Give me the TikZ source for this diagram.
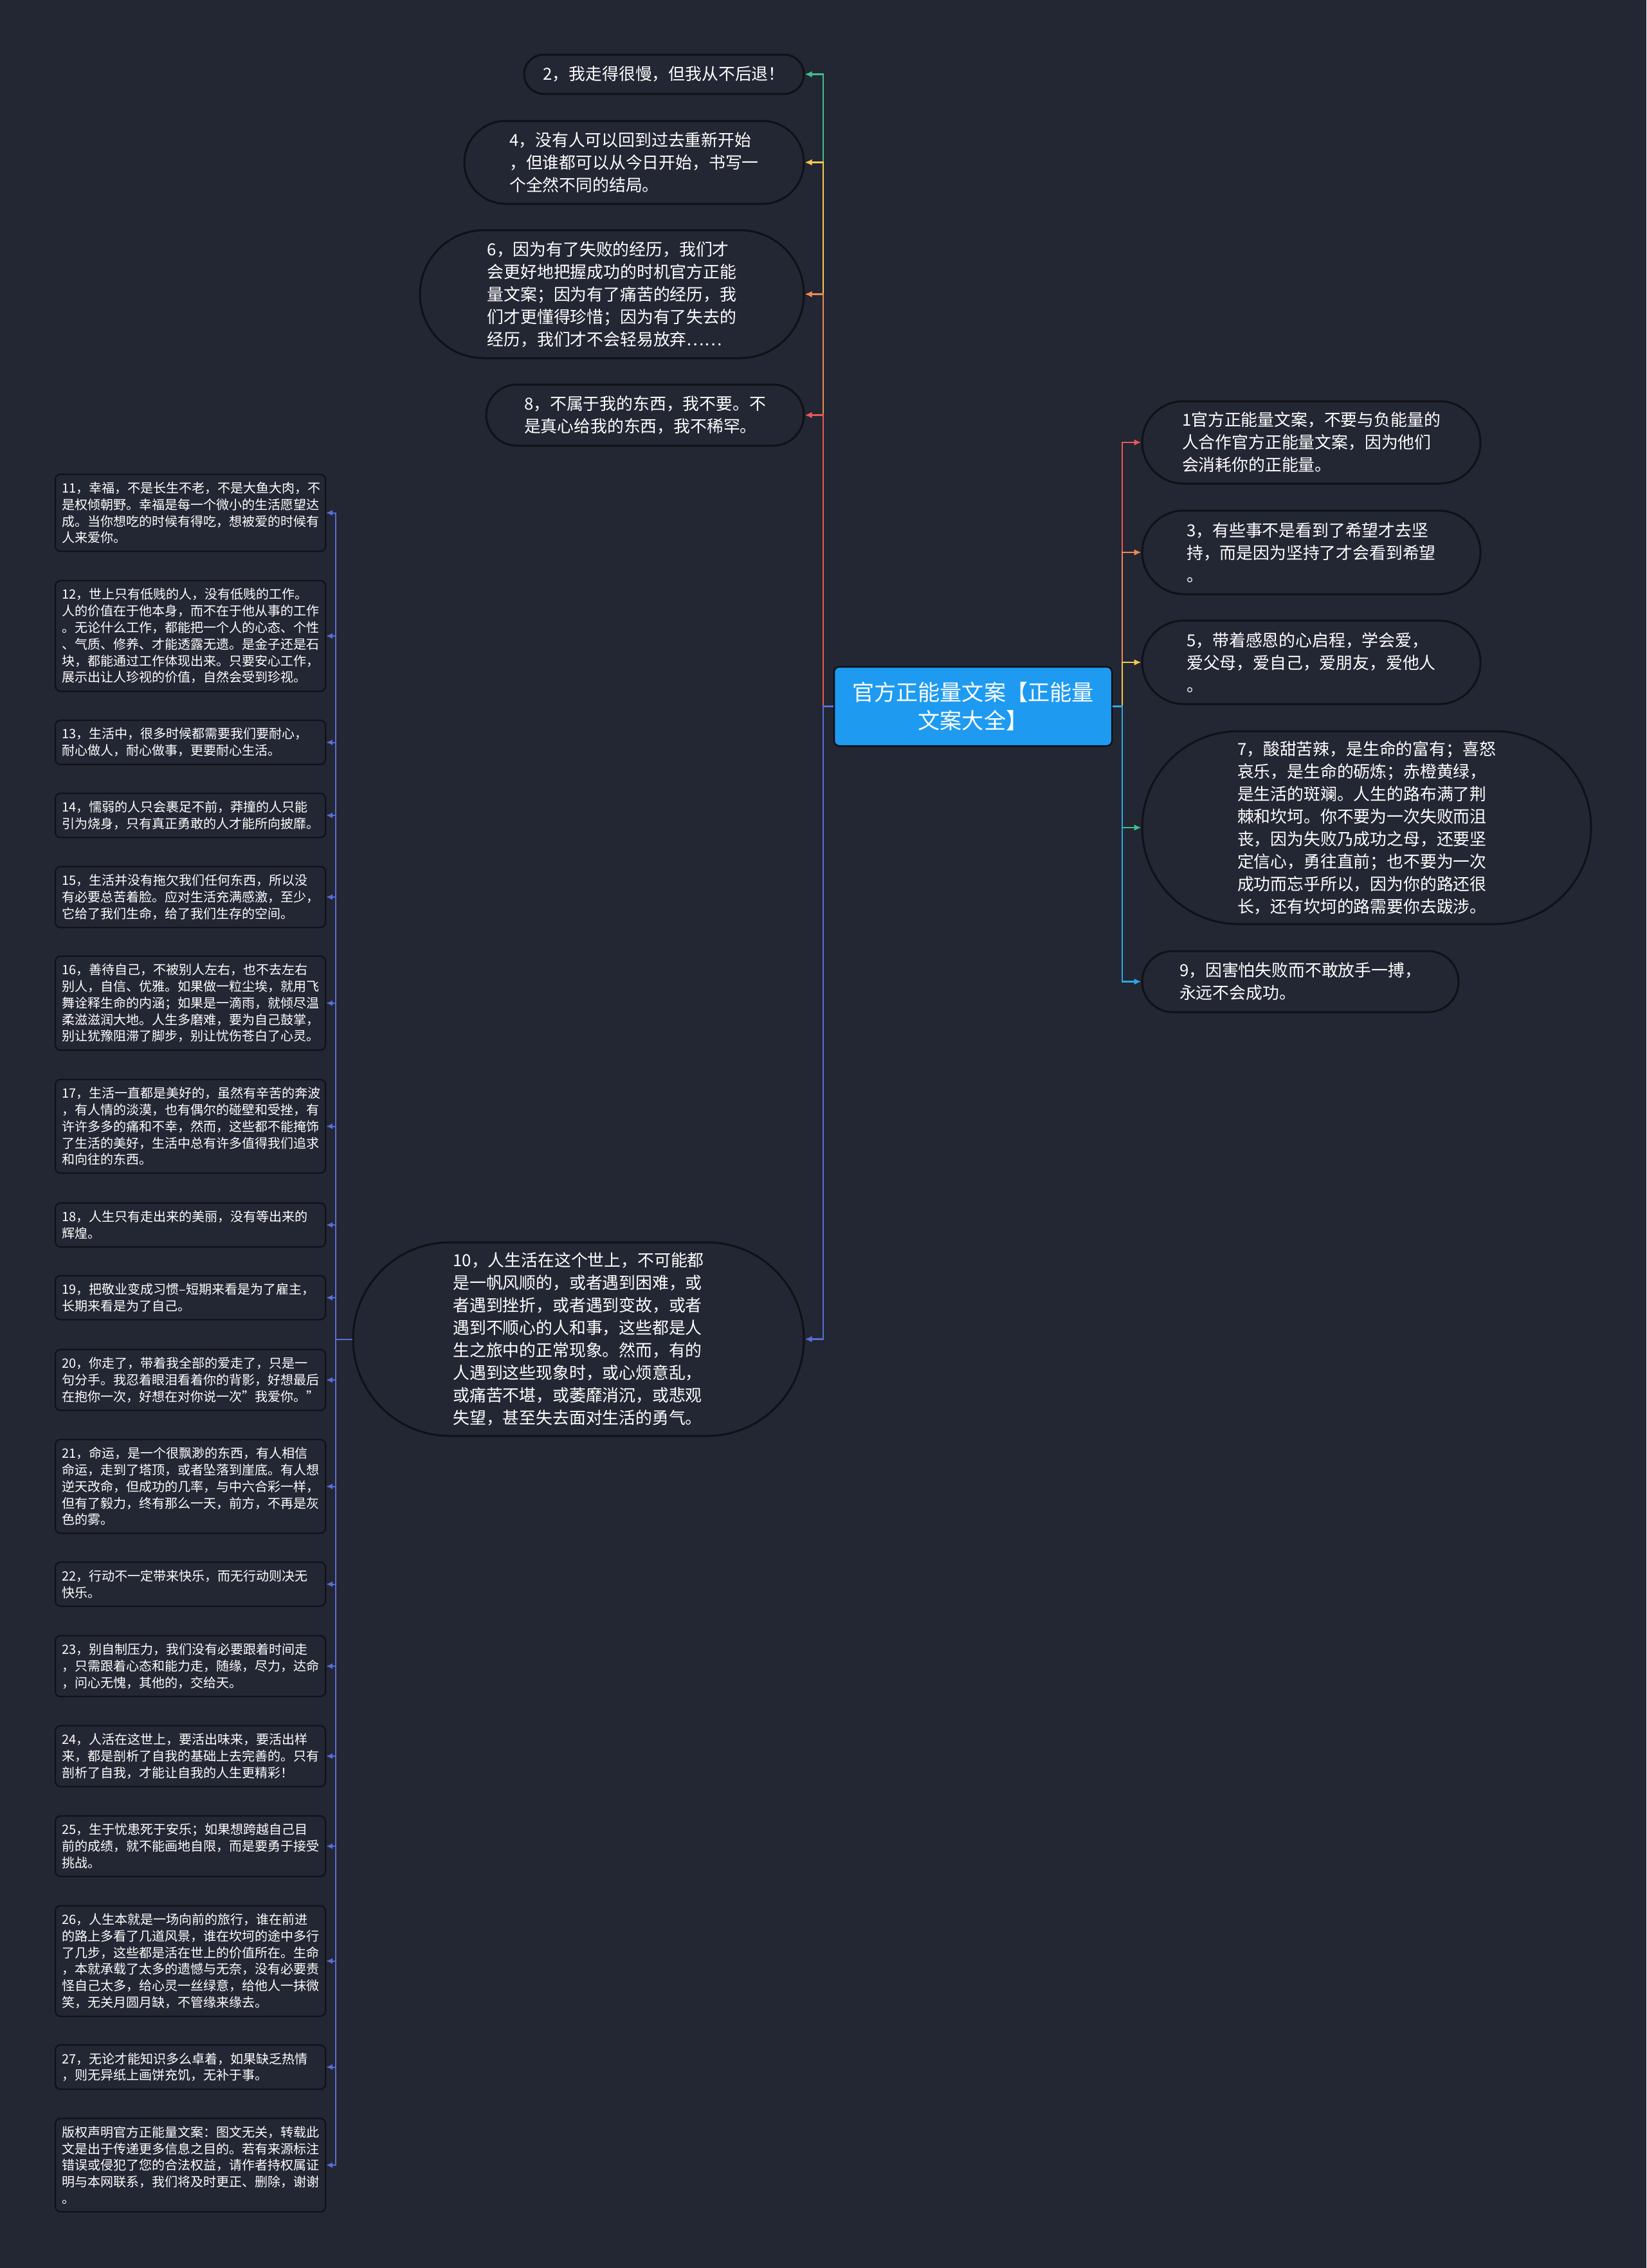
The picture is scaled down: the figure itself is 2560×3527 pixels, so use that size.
\documentclass[tikz,border=0pt]{standalone}
\usepackage{fontspec}
\setmainfont{Noto Sans CJK SC}
\usetikzlibrary{arrows.meta,shapes.misc}
\definecolor{bgdark}{RGB}{35,38,51}
\definecolor{edgedark}{RGB}{16,17,23}
\definecolor{rootblue}{RGB}{30,155,240}
\definecolor{linkred}{RGB}{233,88,88}
\definecolor{linkorange}{RGB}{238,138,82}
\definecolor{linkyellow}{RGB}{246,201,78}
\definecolor{linkgreen}{RGB}{62,192,140}
\definecolor{linkcyan}{RGB}{45,168,226}
\definecolor{linkindigo}{RGB}{88,110,214}
\begin{document}
\begin{tikzpicture}[x=0.1mm,y=-0.1mm,root/.style={rectangle,draw=edgedark,fill=rootblue,line width=0.25mm,rounded corners=0.8mm,minimum width=43.2mm,minimum height=12.3mm,align=center,text=white,font=\fontsize{9.7pt}{12.5pt}\selectfont},bubble/.style={rounded rectangle,draw=edgedark,fill=bgdark,line width=0.3mm,inner sep=0pt,align=left,text=white,font=\fontsize{7.35pt}{9.96pt}\selectfont},card/.style={rectangle,draw=edgedark,fill=bgdark,line width=0.2mm,rounded corners=0.8mm,text width=40mm,inner xsep=1mm,inner ysep=1.2mm,align=left,text=white,font=\fontsize{5.7pt}{7.34pt}\selectfont},link/.style={line width=0.25mm,-{Latex[length=1.1mm,width=1mm]}},sublink/.style={line width=0.2mm,linkindigo,-{Latex[length=1mm,width=0.9mm]}}]
\fill[bgdark] (0,0) rectangle (2560,3527);
\useasboundingbox (0,0) rectangle (2560,3527);
\coordinate (rtrunk) at (1745,1098.5);
\coordinate (ltrunk) at (1280,1098.5);
\coordinate (ctrunk) at (522,2082.5);
\node[root] (root) at (1513,1098.5) {官方正能量文案【正能量\\文案大全】};
\node[bubble,minimum width=43.5mm,minimum height=6.1mm] (b2) at (1032.5,115.5) {2，我走得很慢，但我从不后退！};
\node[bubble,minimum width=52.8mm,minimum height=12.9mm] (b4) at (986,252.5) {4，没有人可以回到过去重新开始\\，但谁都可以从今日开始，书写一\\个全然不同的结局。};
\node[bubble,minimum width=59.7mm,minimum height=19.9mm] (b6) at (951.5,457.5) {6，因为有了失败的经历，我们才\\会更好地把握成功的时机官方正能\\量文案；因为有了痛苦的经历，我\\们才更懂得珍惜；因为有了失去的\\经历，我们才不会轻易放弃……};
\node[bubble,minimum width=49.4mm,minimum height=9.5mm] (b8) at (1003,645.5) {8，不属于我的东西，我不要。不\\是真心给我的东西，我不稀罕。};
\node[bubble,minimum width=70.1mm,minimum height=30.1mm] (b10) at (899.5,2082.5) {10，人生活在这个世上，不可能都\\是一帆风顺的，或者遇到困难，或\\者遇到挫折，或者遇到变故，或者\\遇到不顺心的人和事，这些都是人\\生之旅中的正常现象。然而，有的\\人遇到这些现象时，或心烦意乱，\\或痛苦不堪，或萎靡消沉，或悲观\\失望，甚至失去面对生活的勇气。};
\node[bubble,minimum width=52.6mm,minimum height=12.8mm] (b1) at (2039,688) {1官方正能量文案，不要与负能量的\\人合作官方正能量文案，因为他们\\会消耗你的正能量。};
\node[bubble,minimum width=52.6mm,minimum height=13mm] (b3) at (2039,859) {3，有些事不是看到了希望才去坚\\持，而是因为坚持了才会看到希望\\。};
\node[bubble,minimum width=52.6mm,minimum height=13mm] (b5) at (2039,1030) {5，带着感恩的心启程，学会爱，\\爱父母，爱自己，爱朋友，爱他人\\。};
\node[bubble,minimum width=69.8mm,minimum height=30mm] (b7) at (2125,1287) {7，酸甜苦辣，是生命的富有；喜怒\\哀乐，是生命的砺炼；赤橙黄绿，\\是生活的斑斓。人生的路布满了荆\\棘和坎坷。你不要为一次失败而沮\\丧，因为失败乃成功之母，还要坚\\定信心，勇往直前；也不要为一次\\成功而忘乎所以，因为你的路还很\\长，还有坎坷的路需要你去跋涉。};
\node[bubble,minimum width=49.2mm,minimum height=9.5mm] (b9) at (2022,1526.5) {9，因害怕失败而不敢放手一搏，\\永远不会成功。};
\node[card] (c11) at (296,797.5) {11，幸福，不是长生不老，不是大鱼大肉，不\\是权倾朝野。幸福是每一个微小的生活愿望达\\成。当你想吃的时候有得吃，想被爱的时候有\\人来爱你。};
\node[card] (c12) at (296,989) {12，世上只有低贱的人，没有低贱的工作。\\人的价值在于他本身，而不在于他从事的工作\\。无论什么工作，都能把一个人的心态、个性\\、气质、修养、才能透露无遗。是金子还是石\\块，都能通过工作体现出来。只要安心工作，\\展示出让人珍视的价值，自然会受到珍视。};
\node[card] (c13) at (296,1154.5) {13，生活中，很多时候都需要我们要耐心，\\耐心做人，耐心做事，更要耐心生活。};
\node[card] (c14) at (296,1268) {14，懦弱的人只会裹足不前，莽撞的人只能\\引为烧身，只有真正勇敢的人才能所向披靡。};
\node[card] (c15) at (296,1395) {15，生活并没有拖欠我们任何东西，所以没\\有必要总苦着脸。应对生活充满感激，至少，\\它给了我们生命，给了我们生存的空间。};
\node[card] (c16) at (296,1560) {16，善待自己，不被别人左右，也不去左右\\别人，自信、优雅。如果做一粒尘埃，就用飞\\舞诠释生命的内涵；如果是一滴雨，就倾尽温\\柔滋滋润大地。人生多磨难，要为自己鼓掌，\\别让犹豫阻滞了脚步，别让忧伤苍白了心灵。};
\node[card] (c17) at (296,1751.5) {17，生活一直都是美好的，虽然有辛苦的奔波\\，有人情的淡漠，也有偶尔的碰壁和受挫，有\\许许多多的痛和不幸，然而，这些都不能掩饰\\了生活的美好，生活中总有许多值得我们追求\\和向往的东西。};
\node[card] (c18) at (296,1905) {18，人生只有走出来的美丽，没有等出来的\\辉煌。};
\node[card] (c19) at (296,2018) {19，把敬业变成习惯–短期来看是为了雇主，\\长期来看是为了自己。};
\node[card] (c20) at (296,2146) {20，你走了，带着我全部的爱走了，只是一\\句分手。我忍着眼泪看着你的背影，好想最后\\在抱你一次，好想在对你说一次"我爱你。"};
\node[card] (c21) at (296,2311.5) {21，命运，是一个很飘渺的东西，有人相信\\命运，走到了塔顶，或者坠落到崖底。有人想\\逆天改命，但成功的几率，与中六合彩一样，\\但有了毅力，终有那么一天，前方，不再是灰\\色的雾。};
\node[card] (c22) at (296,2463.5) {22，行动不一定带来快乐，而无行动则决无\\快乐。};
\node[card] (c23) at (296,2591) {23，别自制压力，我们没有必要跟着时间走\\，只需跟着心态和能力走，随缘，尽力，达命\\，问心无愧，其他的，交给天。};
\node[card] (c24) at (296,2731) {24，人活在这世上，要活出味来，要活出样\\来，都是剖析了自我的基础上去完善的。只有\\剖析了自我，才能让自我的人生更精彩！};
\node[card] (c25) at (296,2871) {25，生于忧患死于安乐；如果想跨越自己目\\前的成绩，就不能画地自限，而是要勇于接受\\挑战。};
\node[card] (c26) at (296,3049.5) {26，人生本就是一场向前的旅行，谁在前进\\的路上多看了几道风景，谁在坎坷的途中多行\\了几步，这些都是活在世上的价值所在。生命\\，本就承载了太多的遗憾与无奈，没有必要责\\怪自己太多，给心灵一丝绿意，给他人一抹微\\笑，无关月圆月缺，不管缘来缘去。};
\node[card] (c27) at (296,3214.5) {27，无论才能知识多么卓着，如果缺乏热情\\，则无异纸上画饼充饥，无补于事。};
\node[card] (ccopy) at (296,3367) {版权声明官方正能量文案：图文无关，转载此\\文是出于传递更多信息之目的。若有来源标注\\错误或侵犯了您的合法权益，请作者持权属证\\明与本网联系，我们将及时更正、删除，谢谢\\。};
\draw[link,linkred] (root.east) -- (rtrunk) |- (b1.west);
\draw[link,linkorange] (root.east) -- (rtrunk) |- (b3.west);
\draw[link,linkyellow] (root.east) -- (rtrunk) |- (b5.west);
\draw[link,linkgreen] (root.east) -- (rtrunk) |- (b7.west);
\draw[link,linkcyan] (root.east) -- (rtrunk) |- (b9.west);
\draw[link,linkgreen] (root.west) -- (ltrunk) |- (b2.east);
\draw[link,linkyellow] (root.west) -- (ltrunk) |- (b4.east);
\draw[link,linkorange] (root.west) -- (ltrunk) |- (b6.east);
\draw[link,linkred] (root.west) -- (ltrunk) |- (b8.east);
\draw[link,linkindigo] (root.west) -- (ltrunk) |- (b10.east);
\foreach \c in {c11,c12,c13,c14,c15,c16,c17,c18,c19,c20,c21,c22,c23,c24,c25,c26,c27,ccopy}
  \draw[sublink] (b10.west) -- (ctrunk) |- (\c.east);
\end{tikzpicture}
\end{document}
